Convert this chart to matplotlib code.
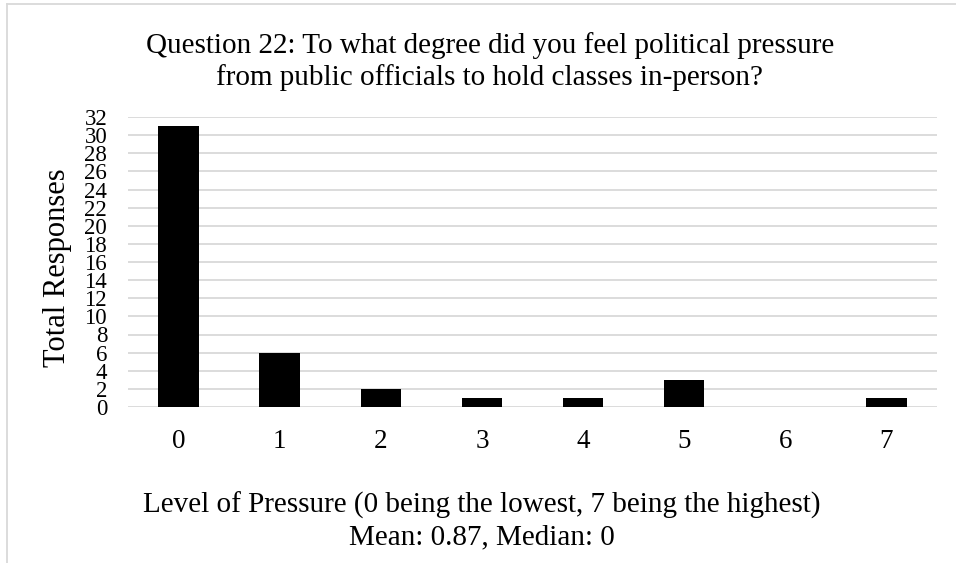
import matplotlib
matplotlib.use("Agg")
import matplotlib.pyplot as plt
from matplotlib.lines import Line2D

categories = ["0", "1", "2", "3", "4", "5", "6", "7"]
values = [31, 6, 2, 1, 1, 3, 0, 1]
yticks = list(range(0, 33, 2))

plt.rcParams['font.family'] = ['Liberation Serif', 'DejaVu Serif']

fig = plt.figure(figsize=(9.56, 5.63), dpi=100)
W, H = 956, 563
ax = fig.add_axes([128 / W, 1 - 407 / H, (937 - 128) / W, (407 - 117) / H])

x = list(range(len(categories)))
ax.bar(x, values, width=0.4, color='black', zorder=3)
ax.set_xlim(-0.5, len(categories) - 0.5)
ax.set_ylim(0, 32)
ax.set_yticks(yticks)
ax.set_yticklabels([str(v) for v in yticks], fontsize=16.5)
ax.set_xticks(x)
ax.set_xticklabels(categories, fontsize=19.5)
ax.grid(axis='y', color='#d9d9d9', linewidth=1.3, zorder=0)
for s in ax.spines.values():
    s.set_visible(False)
ax.tick_params(axis='both', length=0)
ax.tick_params(axis='x', pad=16)
ax.tick_params(axis='y', pad=15)
for lbl in ax.get_yticklabels():
    lbl.set_verticalalignment('center_baseline')

ax.set_ylabel("Total Responses", fontsize=22, labelpad=4)
ax.yaxis.set_label_coords(72 / W, 1 - 268 / H, transform=fig.transFigure)

fig.text(490 / W, 1 - 53 / H,
         "Question 22: To what degree did you feel political pressure",
         ha='center', va='baseline', fontsize=21)
fig.text(490 / W, 1 - 85 / H,
         "from public officials to hold classes in-person?",
         ha='center', va='baseline', fontsize=21)
fig.text(482 / W, 1 - 513 / H,
         "Level of Pressure (0 being the lowest, 7 being the highest)",
         ha='center', va='baseline', fontsize=21)
fig.text(482 / W, 1 - 544 / H,
         "Mean: 0.87, Median: 0",
         ha='center', va='baseline', fontsize=21)

# chart frame (top and left visible)
fig.add_artist(Line2D([7 / W, 7 / W], [0, 1 - 4 / H], color='#d9d9d9', lw=1.3, transform=fig.transFigure))
fig.add_artist(Line2D([7 / W, 1], [1 - 4 / H, 1 - 4 / H], color='#d9d9d9', lw=1.3, transform=fig.transFigure))

fig.savefig("out.png", dpi=100)
